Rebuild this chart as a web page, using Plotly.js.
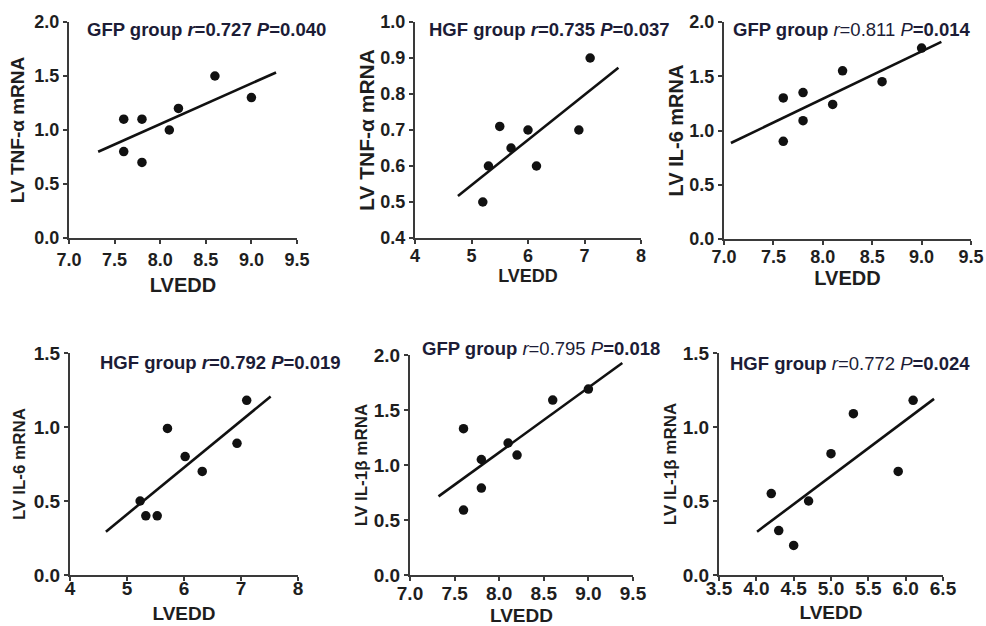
<!DOCTYPE html>
<html>
<head>
<meta charset="utf-8">
<script src="https://cdn.plot.ly/plotly-3.0.1.min.js"></script>
<style>
html,body{margin:0;padding:0;background:#fff;}
#chart{width:986px;height:626px;}
</style>
</head>
<body>
<div id="chart"></div>
<script>
// ---- Data ----
const tnfGfpX = [7.6, 7.6, 7.8, 7.8, 8.1, 8.2, 8.6, 9.0];
const tnfGfpY = [1.1, 0.8, 1.1, 0.7, 1.0, 1.2, 1.5, 1.3];
const tnfHgfX = [5.2, 5.3, 5.5, 5.7, 6.0, 6.15, 6.9, 7.1];
const tnfHgfY = [0.5, 0.6, 0.71, 0.65, 0.7, 0.6, 0.7, 0.9];
const il6GfpX = [7.6, 7.6, 7.8, 7.8, 8.1, 8.2, 8.6, 9.0];
const il6GfpY = [1.3, 0.9, 1.35, 1.09, 1.24, 1.55, 1.45, 1.76];
const il6HgfX = [5.23, 5.33, 5.53, 5.71, 6.02, 6.32, 6.93, 7.1];
const il6HgfY = [0.5, 0.4, 0.4, 0.99, 0.8, 0.7, 0.89, 1.18];
const il1GfpX = [7.6, 7.6, 7.8, 7.8, 8.1, 8.2, 8.6, 9.0];
const il1GfpY = [1.33, 0.59, 1.05, 0.79, 1.2, 1.09, 1.59, 1.69];
const il1HgfX = [4.2, 4.3, 4.5, 4.7, 5.0, 5.3, 5.9, 6.1];
const il1HgfY = [0.55, 0.3, 0.2, 0.5, 0.82, 1.09, 0.7, 1.18];

// x extent of each fitted regression line
const fitSpan1 = [7.32, 9.27];
const fitSpan2 = [4.76, 7.6];
const fitSpan3 = [7.07, 9.2];
const fitSpan4 = [4.63, 7.52];
const fitSpan5 = [7.32, 9.38];
const fitSpan6 = [4.01, 6.38];

// labels
const groupNames = ["GFP group", "HGF group", "GFP group", "HGF group", "GFP group", "HGF group"];
const rValues = ["0.727", "0.735", "0.811", "0.792", "0.795", "0.772"];
const pValues = ["0.040", "0.037", "0.014", "0.019", "0.018", "0.024"];
const yTitles = ["LV TNF-α mRNA", "LV TNF-α mRNA", "LV IL-6 mRNA", "LV IL-6 mRNA", "LV IL-1β mRNA", "LV IL-1β mRNA"];
const xTitle = "LVEDD";
const xRanges = [[7, 9.5], [4, 8], [7, 9.5], [4, 8], [7, 9.5], [3.5, 6.5]];
const yRanges = [[0, 2], [0.4, 1.0], [0, 2], [0, 1.5], [0, 2], [0, 1.5]];
const xSteps = [0.5, 1, 0.5, 1, 0.5, 0.5];
const ySteps = [0.5, 0.1, 0.5, 0.5, 0.5, 0.5];

const xs = [tnfGfpX, tnfHgfX, il6GfpX, il6HgfX, il1GfpX, il1HgfX];
const ys = [tnfGfpY, tnfHgfY, il6GfpY, il6HgfY, il1GfpY, il1HgfY];
const spans = [fitSpan1, fitSpan2, fitSpan3, fitSpan4, fitSpan5, fitSpan6];

// ---- Layout geometry (pixels in a 986x626 canvas) ----
const W = 986, H = 626;
const boxes = [
  {x0: 69, x1: 297, y0: 22, y1: 238},
  {x0: 415, x1: 641, y0: 22, y1: 238},
  {x0: 724, x1: 971, y0: 22, y1: 239},
  {x0: 70, x1: 298, y0: 353, y1: 575},
  {x0: 410, x1: 633, y0: 355, y1: 575},
  {x0: 719, x1: 943, y0: 353, y1: 575}
];
const annPos = [[85, 30], [427, 30], [731, 30], [98, 362], [420, 348], [728, 363]];
const tickSize = [18, 18, 18, 19, 19, 19];
const xTitleSize = [20, 18, 20, 19, 19, 19];
const yTitleSize = [19, 21, 20, 17, 17, 17];
const xLabStand = [0, -4, -4, -9, -4, -9];
const xTitleStand = [9, 0, 4, 9, 6, 8];
const yTitleStand = [5, 0, 0, 4, 2, 2];
// panels whose statistics are partly in regular weight
const mixedWeight = [false, false, true, false, true, true];

const FONT = "Liberation Sans, Arial, Helvetica, sans-serif";
const TXT = "#1c1c36";

function linFit(x, y) {
  const n = x.length;
  const mx = x.reduce((a, b) => a + b, 0) / n;
  const my = y.reduce((a, b) => a + b, 0) / n;
  let sxy = 0, sxx = 0;
  for (let i = 0; i < n; i++) { sxy += (x[i] - mx) * (y[i] - my); sxx += (x[i] - mx) ** 2; }
  const b = sxy / sxx;
  return {a: my - b * mx, b: b};
}

const traces = [];
const layout = {
  width: W, height: H,
  margin: {l: 0, r: 0, t: 0, b: 0},
  paper_bgcolor: "#ffffff",
  plot_bgcolor: "#ffffff",
  showlegend: false,
  font: {family: FONT, color: "#222"},
  annotations: []
};

for (let i = 0; i < 6; i++) {
  const k = i === 0 ? "" : String(i + 1);
  const xa = "x" + k, ya = "y" + k;
  traces.push({
    type: "scatter", mode: "markers", x: xs[i], y: ys[i],
    xaxis: xa, yaxis: ya,
    marker: {color: "#111", size: 9.5},
    cliponaxis: false, hoverinfo: "x+y"
  });
  const f = linFit(xs[i], ys[i]);
  const lx = spans[i];
  traces.push({
    type: "scatter", mode: "lines", x: lx, y: lx.map(v => f.a + f.b * v),
    xaxis: xa, yaxis: ya,
    line: {color: "#111", width: 2.6},
    hoverinfo: "skip"
  });
  const b = boxes[i];
  const axisCommon = {
    showgrid: false, zeroline: false, showline: true,
    linecolor: "#3a3a3a", linewidth: 2,
    ticks: "outside", ticklen: 4, tickwidth: 2, tickcolor: "#3a3a3a",
    tickfont: {family: FONT, size: tickSize[i], color: "#1e1e1e", weight: "bold"},
    ticklabeloverflow: "allow",
    fixedrange: true
  };
  layout["xaxis" + k] = Object.assign({}, axisCommon, {
    domain: [b.x0 / W, b.x1 / W],
    anchor: ya,
    range: xRanges[i],
    tick0: xRanges[i][0], dtick: xSteps[i],
    tickformat: xSteps[i] < 1 ? ".1f" : "d",
    ticklabelstandoff: xLabStand[i],
    title: {text: xTitle, standoff: xTitleStand[i],
            font: {family: FONT, size: xTitleSize[i], color: "#1e1e1e", weight: "bold"}}
  });
  layout["yaxis" + k] = Object.assign({}, axisCommon, {
    domain: [1 - b.y1 / H, 1 - b.y0 / H],
    anchor: xa,
    range: yRanges[i],
    tick0: yRanges[i][0], dtick: ySteps[i],
    tickformat: ".1f",
    title: {text: yTitles[i], standoff: yTitleStand[i],
            font: {family: FONT, size: yTitleSize[i], color: "#1e1e1e", weight: "bold"}}
  });
  let txt;
  if (mixedWeight[i]) {
    txt = "<b>" + groupNames[i] + "</b> <i>r</i>=" + rValues[i] + " <i>P</i><b>=" + pValues[i] + "</b>";
  } else {
    txt = "<b>" + groupNames[i] + " <i>r</i>=" + rValues[i] + " <i>P</i>=" + pValues[i] + "</b>";
  }
  layout.annotations.push({
    xref: "paper", yref: "paper",
    x: annPos[i][0] / W, y: 1 - annPos[i][1] / H,
    xanchor: "left", yanchor: "middle",
    showarrow: false, text: txt,
    font: {family: FONT, size: 18.5, color: TXT}
  });
}

Plotly.newPlot("chart", traces, layout, {staticPlot: true, displayModeBar: false});
</script>
</body>
</html>
